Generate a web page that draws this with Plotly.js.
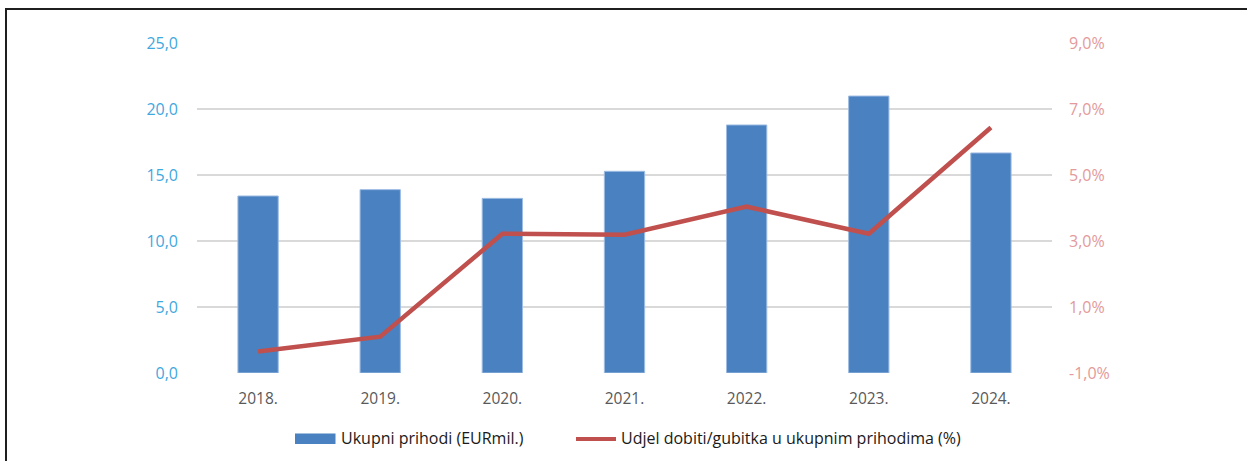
<!DOCTYPE html>
<html>
<head>
<meta charset="utf-8">
<script src="https://cdn.plot.ly/plotly-3.0.1.min.js"></script>
<style>
html,body{margin:0;padding:0;background:#fff;}
#wrap{position:relative;width:1247px;height:461px;overflow:hidden;}
#chart{width:1247px;height:461px;}
#frame{position:absolute;left:5px;top:8px;width:1300px;height:500px;border-left:2px solid #1f1f1f;border-top:2px solid #1f1f1f;pointer-events:none;}
</style>
</head>
<body>
<div id="wrap">
<div id="chart"></div>
<div id="frame"></div>
</div>
<script>
const years = ['2018.', '2019.', '2020.', '2021.', '2022.', '2023.', '2024.'];
const revenue = [13.41, 13.89, 13.23, 15.28, 18.79, 20.98, 16.67];
const profitShare = [-0.35, 0.10, 3.22, 3.19, 4.04, 3.22, 6.44];
const leftTicks = [0, 5, 10, 15, 20, 25];
const rightTicks = [-1, 1, 3, 5, 7, 9];
const revenueName = 'Ukupni prihodi (EURmil.)';
const shareName = 'Udjel dobiti/gubitka u ukupnim prihodima (%)';

const font = "Open Sans, Liberation Sans, sans-serif";
const fmt = v => v.toFixed(1).replace('.', ',');

// plot area in pixels, used to place the hand-drawn legend
const L = 197, R = 1052, T = 43, B = 373;
const px = x => (x - L) / (R - L);
const py = y => (B - y) / (B - T);

const traces = [
  {
    type: 'bar', x: years, y: revenue, name: revenueName,
    marker: {color: '#4A81C0', line: {color: '#9dbce3', width: 1}},
    yaxis: 'y', hoverinfo: 'skip', showlegend: false
  },
  {
    type: 'scatter', mode: 'lines', x: years, y: profitShare, name: shareName,
    line: {color: '#C0504D', width: 4.5}, yaxis: 'y2', hoverinfo: 'skip', showlegend: false
  }
];

const layout = {
  width: 1247, height: 461,
  margin: {l: L, r: 1247 - R, t: T, b: 461 - B, pad: 0},
  paper_bgcolor: '#ffffff', plot_bgcolor: '#ffffff',
  font: {family: font, size: 16, color: '#262626'},
  bargap: 0.67,
  showlegend: false,
  xaxis: {
    type: 'category', showgrid: false, zeroline: false, showline: false, ticks: '',
    tickfont: {family: font, size: 15.5, color: '#595959'}, ticklabelstandoff: 14
  },
  yaxis: {
    range: [0, 25], tickmode: 'array', tickvals: leftTicks, ticktext: leftTicks.map(fmt),
    showgrid: true, gridcolor: '#d9d9d9', gridwidth: 1.3, zeroline: false, showline: false, ticks: '',
    tickfont: {family: font, size: 16, color: '#3FA8E0'}, ticklabelstandoff: 18
  },
  yaxis2: {
    overlaying: 'y', side: 'right', range: [-1, 9],
    tickmode: 'array', tickvals: rightTicks, ticktext: rightTicks.map(v => fmt(v) + '%'),
    showgrid: false, zeroline: false, showline: false, ticks: '',
    tickfont: {family: font, size: 16, color: '#E39A9A'}, ticklabelstandoff: 16
  },
  shapes: [
    {type: 'rect', xref: 'paper', yref: 'paper', x0: px(295), x1: px(335.5), y0: py(444), y1: py(433.5),
     fillcolor: '#4A81C0', line: {width: 0}},
    {type: 'line', xref: 'paper', yref: 'paper', x0: px(576), x1: px(616), y0: py(439), y1: py(439),
     line: {color: '#C0504D', width: 4}}
  ],
  annotations: [
    {xref: 'paper', yref: 'paper', x: px(339), y: py(438), xanchor: 'left', yanchor: 'middle',
     text: revenueName, showarrow: false, font: {family: font, size: 16, color: '#1a1a1a'}},
    {xref: 'paper', yref: 'paper', x: px(619), y: py(438), xanchor: 'left', yanchor: 'middle',
     text: shareName, showarrow: false, font: {family: font, size: 16, color: '#1a1a1a'}}
  ]
};

Plotly.newPlot('chart', traces, layout, {displayModeBar: false, staticPlot: true});
</script>
</body>
</html>
